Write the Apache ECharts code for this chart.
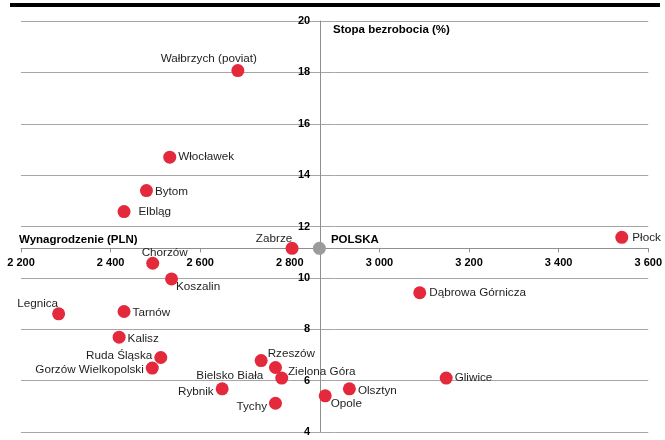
<!DOCTYPE html>
<html>
<head>
<meta charset="utf-8">
<script src="https://cdn.jsdelivr.net/npm/echarts@6/dist/echarts.min.js"></script>
<style>
html, body { margin: 0; padding: 0; background: #fff; }
#chart { width: 665px; height: 440px; }
</style>
</head>
<body>
<div id="chart"></div>
<script>
// miasta: wynagrodzenie (PLN) vs stopa bezrobocia (%)
var cities = ['Wałbrzych (poviat)', 'Włocławek', 'Bytom', 'Elbląg', 'Zabrze', 'Chorzów',
    'Koszalin', 'Legnica', 'Tarnów', 'Kalisz', 'Ruda Śląska', 'Gorzów Wielkopolski',
    'Rybnik', 'Bielsko Biała', 'Rzeszów', 'Zielona Góra', 'Tychy', 'Opole', 'Olsztyn',
    'Gliwice', 'Dąbrowa Górnicza', 'Płock'];
var wages = [2684, 2532, 2480, 2430, 2805, 2494, 2536, 2284, 2430, 2419, 2512, 2493,
    2649, 2782, 2736, 2768, 2768, 2879, 2933, 3149, 3090, 3541];
var rates = [18.07, 14.70, 13.40, 12.58, 11.15, 10.57, 9.96, 8.60, 8.69, 7.69, 6.90, 6.49,
    5.68, 6.10, 6.78, 6.51, 5.12, 5.41, 5.68, 6.10, 9.42, 11.58];

var polskaName = 'POLSKA';
var polskaWage = 2866;
var polskaRate = 11.15;

var xTicks = [2200, 3600, 200];   // min, max, interval
var yTicks = [4, 20, 2];

// label placement for each city (position, offset)
var labelPos = [
    ['top', [-29, 3]], ['right', [0, 0]], ['right', [0, 1]], ['right', [6, 0]],
    ['top', [-18, 5]], ['top', [12, 4]], ['right', [-4, 8]], ['top', [-21, 4]],
    ['right', [0, 1]], ['right', [0, 2]], ['left', [0, -2]], ['left', [0, 2]],
    ['left', [0, 3]], ['left', [-10, -2]], ['right', [-2, -7]], ['right', [4, 4]],
    ['left', [0, 4]], ['right', [-3, 8]], ['right', [0, 2]], ['right', [0, 0]],
    ['right', [1, 0]], ['right', [2, 0]]
];

var fontFam = '"Liberation Sans", Arial, sans-serif';
var gridTop = 21, gridBottom = 8, gridLeft = 21, gridRight = 15;

var myChart = echarts.init(document.getElementById('chart'));
var H = myChart.getHeight(), W = myChart.getWidth();
var gh = H - gridTop - gridBottom, gw = W - gridLeft - gridRight;
var xOff = -(polskaRate - yTicks[0]) / (yTicks[1] - yTicks[0]) * gh;
var yOff = -(polskaWage - xTicks[0]) / (xTicks[1] - xTicks[0]) * gw;

var cityData = [];
for (var i = 0; i < cities.length; i++) {
    cityData.push({
        name: cities[i],
        value: [wages[i], rates[i]],
        label: { position: labelPos[i][0], offset: labelPos[i][1] }
    });
}

function fmtThousands(v) {
    var s = String(v);
    return s.length > 3 ? s.slice(0, s.length - 3) + ' ' + s.slice(-3) : s;
}

var option = {
    animation: false,
    grid: { left: gridLeft, right: gridRight, top: gridTop, bottom: gridBottom },
    xAxis: {
        type: 'value',
        min: xTicks[0], max: xTicks[1], interval: xTicks[2],
        position: 'bottom',
        offset: xOff,
        axisLine: { show: true, lineStyle: { color: '#8f8f8f', width: 1 } },
        axisTick: { show: true, length: 4, lineStyle: { color: '#8f8f8f' } },
        splitLine: { show: false },
        axisLabel: {
            margin: 9, color: '#000', fontWeight: 'bold', fontSize: 11,
            fontFamily: fontFam, formatter: fmtThousands,
            showMinLabel: true, showMaxLabel: true
        }
    },
    yAxis: {
        type: 'value',
        min: yTicks[0], max: yTicks[1], interval: yTicks[2],
        position: 'left',
        offset: yOff,
        axisLine: { show: true, lineStyle: { color: '#8f8f8f', width: 1 } },
        axisTick: { show: false },
        splitLine: { show: true, lineStyle: { color: '#a6a6a6', width: 1 } },
        axisLabel: {
            margin: 10, color: '#000', fontWeight: 'bold', fontSize: 11,
            fontFamily: fontFam
        }
    },
    graphic: [
        { type: 'rect', left: 10, top: 3, shape: { width: 650, height: 4 }, style: { fill: '#000' } },
        { type: 'text', left: 19, top: 234, style: { text: 'Wynagrodzenie (PLN)', fill: '#000', font: 'bold 11.5px ' + fontFam } },
        { type: 'text', left: 333, top: 24, style: { text: 'Stopa bezrobocia (%)', fill: '#000', font: 'bold 11.5px ' + fontFam } }
    ],
    series: [
        {
            name: 'miasta',
            type: 'scatter',
            symbolSize: 13,
            itemStyle: { color: '#e3293b', opacity: 1 },
            label: {
                show: true, distance: 2, formatter: '{b}',
                color: '#1f1f1f', fontSize: 11.7, fontFamily: fontFam
            },
            emphasis: { disabled: true },
            data: cityData,
            z: 3
        },
        {
            name: polskaName,
            type: 'scatter',
            symbolSize: 13,
            itemStyle: { color: '#9b9b9b', opacity: 1 },
            label: {
                show: true, position: 'right', distance: 5, offset: [0, -9],
                formatter: '{b}', color: '#000', fontWeight: 'bold',
                fontSize: 11.5, fontFamily: fontFam
            },
            emphasis: { disabled: true },
            data: [{ name: polskaName, value: [polskaWage, polskaRate] }],
            z: 3
        }
    ]
};
myChart.setOption(option);
</script>
</body>
</html>
